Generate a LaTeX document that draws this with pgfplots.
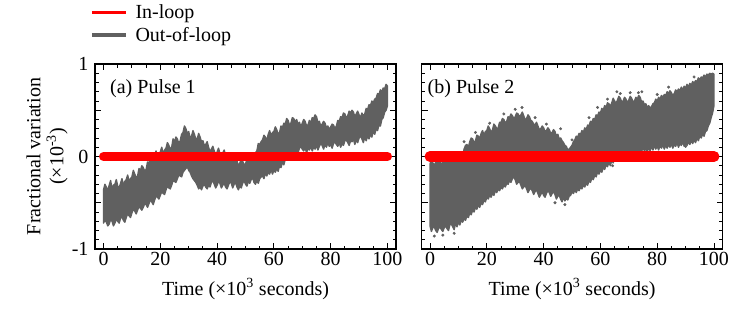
\documentclass[border=0pt]{standalone}
\usepackage{fontspec}
\setmainfont{Liberation Serif}
\usepackage{pgfplots}
\usepackage{pgfplotstable}
\pgfplotsset{compat=1.18}

\definecolor{outloop}{RGB}{96,96,96}
\definecolor{inloop}{RGB}{255,0,0}

% Out-of-loop spread, pulse 1: upper edge (t rising) then lower edge (t falling)
\pgfplotstableread{
t v
0 -0.36
0.5 -0.30
1 -0.33
1.5 -0.37
2 -0.31
2.5 -0.26
3 -0.35
3.5 -0.31
4 -0.30
4.5 -0.25
5 -0.32
5.5 -0.34
6 -0.29
6.5 -0.24
7 -0.31
7.5 -0.27
8 -0.25
8.5 -0.20
9 -0.27
9.5 -0.24
10 -0.22
10.5 -0.15
11 -0.19
11.5 -0.23
12 -0.21
12.5 -0.13
13 -0.15
13.5 -0.10
14 -0.12
14.5 -0.16
15 -0.14
15.5 -0.06
16 -0.07
16.5 -0.02
17 -0.05
17.5 -0.01
18 0.01
18.5 0.06
19 -0.01
19.5 0.02
20 0.05
20.5 0.10
21 0.03
21.5 0.07
22 0.09
22.5 0.15
23 0.12
23.5 0.08
24 0.10
24.5 0.19
25 0.16
25.5 0.21
26 0.19
26.5 0.14
27 0.17
27.5 0.24
28 0.26
28.5 0.33
29 0.30
29.5 0.25
30 0.27
30.5 0.20
31 0.22
31.5 0.28
32 0.24
32.5 0.19
33 0.19
33.5 0.25
34 0.21
34.5 0.16
35 0.17
35.5 0.12
36 0.13
36.5 0.16
37 0.10
37.5 0.05
38 0.08
38.5 0.11
39 0.06
39.5 0.02
40 0.05
40.5 0.09
41 0.03
41.5 0.00
42 0.04
42.5 0.07
43 0.01
43.5 -0.04
44 -0.01
44.5 0.03
45 0.00
45.5 -0.05
46 -0.03
46.5 -0.01
47 -0.05
47.5 -0.10
48 -0.07
48.5 -0.03
49 -0.05
49.5 -0.09
50 -0.08
50.5 -0.03
51 -0.06
51.5 -0.02
52 -0.04
52.5 0.02
53 0.00
53.5 0.04
54 0.06
54.5 0.14
55 0.13
55.5 0.16
56 0.18
56.5 0.23
57 0.21
57.5 0.17
58 0.24
58.5 0.28
59 0.22
59.5 0.26
60 0.27
60.5 0.32
61 0.29
61.5 0.24
62 0.26
62.5 0.33
63 0.31
63.5 0.36
64 0.35
64.5 0.41
65 0.39
65.5 0.34
66 0.36
66.5 0.42
67 0.41
67.5 0.37
68 0.40
68.5 0.35
69 0.37
69.5 0.32
70 0.36
70.5 0.40
71 0.38
71.5 0.33
72 0.34
72.5 0.39
73 0.36
73.5 0.42
74 0.41
74.5 0.45
75 0.43
75.5 0.37
76 0.38
76.5 0.33
77 0.35
77.5 0.38
78 0.36
78.5 0.31
79 0.33
79.5 0.29
80 0.32
80.5 0.35
81 0.34
81.5 0.30
82 0.33
82.5 0.39
83 0.38
83.5 0.43
84 0.42
84.5 0.47
85 0.46
85.5 0.41
86 0.44
86.5 0.49
87 0.47
87.5 0.50
88 0.48
88.5 0.43
89 0.46
89.5 0.49
90 0.45
90.5 0.42
91 0.47
91.5 0.44
92 0.46
92.5 0.52
93 0.51
93.5 0.56
94 0.55
94.5 0.60
95 0.58
95.5 0.62
96 0.63
96.5 0.68
97 0.67
97.5 0.72
98 0.70
98.5 0.74
99 0.73
99.5 0.78
100 0.76
100 0.55
99.5 0.50
99 0.48
98.5 0.42
98 0.40
97.5 0.33
97 0.34
96.5 0.28
96 0.30
95.5 0.24
95 0.27
94.5 0.21
94 0.24
93.5 0.19
93 0.22
92.5 0.17
92 0.21
91.5 0.15
91 0.19
90.5 0.22
90 0.20
89.5 0.15
89 0.18
88.5 0.13
88 0.19
87.5 0.16
87 0.17
86.5 0.12
86 0.15
85.5 0.18
85 0.17
84.5 0.12
84 0.14
83.5 0.10
83 0.15
82.5 0.11
82 0.13
81.5 0.16
81 0.14
80.5 0.09
80 0.13
79.5 0.11
79 0.15
78.5 0.10
78 0.13
77.5 0.08
77 0.12
76.5 0.14
76 0.11
75.5 0.07
75 0.12
74.5 0.08
74 0.10
73.5 0.06
73 0.11
72.5 0.07
72 0.09
71.5 0.04
71 0.10
70.5 0.06
70 0.08
69.5 0.11
69 0.09
68.5 0.04
68 0.07
67.5 0.03
67 0.08
66.5 0.02
66 0.05
65.5 0.00
65 0.01
64.5 -0.04
64 -0.03
63.5 -0.09
63 -0.06
62.5 -0.12
62 -0.10
61.5 -0.16
61 -0.13
60.5 -0.17
60 -0.15
59.5 -0.19
59 -0.14
58.5 -0.19
58 -0.17
57.5 -0.21
57 -0.18
56.5 -0.24
56 -0.21
55.5 -0.22
55 -0.24
54.5 -0.29
54 -0.26
53.5 -0.30
53 -0.28
52.5 -0.23
52 -0.25
51.5 -0.29
51 -0.27
50.5 -0.32
50 -0.30
49.5 -0.26
49 -0.29
48.5 -0.34
48 -0.32
47.5 -0.36
47 -0.33
46.5 -0.28
46 -0.30
45.5 -0.34
45 -0.29
44.5 -0.27
44 -0.31
43.5 -0.35
43 -0.33
42.5 -0.29
42 -0.31
41.5 -0.34
41 -0.29
40.5 -0.27
40 -0.31
39.5 -0.34
39 -0.30
38.5 -0.26
38 -0.28
37.5 -0.33
37 -0.31
36.5 -0.35
36 -0.33
35.5 -0.30
35 -0.32
34.5 -0.36
34 -0.33
33.5 -0.35
33 -0.31
32.5 -0.28
32 -0.26
31.5 -0.24
31 -0.21
30.5 -0.17
30 -0.15
29.5 -0.11
29 -0.13
28.5 -0.15
28 -0.17
27.5 -0.22
27 -0.21
26.5 -0.20
26 -0.24
25.5 -0.28
25 -0.27
24.5 -0.26
24 -0.31
23.5 -0.35
23 -0.34
22.5 -0.32
22 -0.36
21.5 -0.41
21 -0.40
20.5 -0.38
20 -0.42
19.5 -0.46
19 -0.44
18.5 -0.43
18 -0.47
17.5 -0.52
17 -0.49
16.5 -0.47
16 -0.51
15.5 -0.55
15 -0.52
14.5 -0.51
14 -0.55
13.5 -0.58
13 -0.56
12.5 -0.54
12 -0.58
11.5 -0.62
11 -0.59
10.5 -0.57
10 -0.61
9.5 -0.66
9 -0.64
8.5 -0.62
8 -0.66
7.5 -0.71
7 -0.69
6.5 -0.65
6 -0.67
5.5 -0.72
5 -0.70
4.5 -0.68
4 -0.72
3.5 -0.75
3 -0.70
2.5 -0.68
2 -0.73
1.5 -0.75
1 -0.71
0.5 -0.69
0 -0.72
}\bandA

% Out-of-loop spread, pulse 2
\pgfplotstableread{
t v
0 -0.08
0.5 -0.04
1 -0.07
1.5 -0.10
2 -0.06
2.5 -0.03
3 -0.08
3.5 -0.05
4 -0.09
4.5 -0.06
5 -0.04
5.5 -0.07
6 -0.05
6.5 -0.02
7 -0.06
7.5 -0.03
8 -0.07
8.5 -0.04
9 -0.03
9.5 0.00
10 -0.02
10.5 0.05
11 0.03
11.5 0.01
12 0.08
12.5 0.12
13 0.13
13.5 0.10
14 0.16
14.5 0.20
15 0.19
15.5 0.15
16 0.17
16.5 0.23
17 0.22
17.5 0.19
18 0.25
18.5 0.28
19 0.23
19.5 0.27
20 0.28
20.5 0.33
21 0.30
21.5 0.26
22 0.29
22.5 0.35
23 0.33
23.5 0.30
24 0.31
24.5 0.37
25 0.37
25.5 0.41
26 0.40
26.5 0.36
27 0.38
27.5 0.43
28 0.42
28.5 0.46
29 0.44
29.5 0.41
30 0.43
30.5 0.47
31 0.46
31.5 0.43
32 0.45
32.5 0.48
33 0.44
33.5 0.40
34 0.41
34.5 0.45
35 0.43
35.5 0.39
36 0.38
36.5 0.35
37 0.34
37.5 0.37
38 0.33
38.5 0.29
39 0.30
39.5 0.33
40 0.31
40.5 0.27
41 0.28
41.5 0.31
42 0.29
42.5 0.25
43 0.26
43.5 0.29
44 0.27
44.5 0.22
45 0.24
45.5 0.19
46 0.20
46.5 0.17
47 0.15
47.5 0.12
48 0.11
48.5 0.07
49 0.08
49.5 0.10
50 0.12
50.5 0.16
51 0.18
51.5 0.22
52 0.21
52.5 0.25
53 0.24
53.5 0.28
54 0.26
54.5 0.31
55 0.29
55.5 0.34
56 0.33
56.5 0.38
57 0.37
57.5 0.41
58 0.40
58.5 0.45
59 0.44
59.5 0.48
60 0.47
60.5 0.52
61 0.50
61.5 0.55
62 0.53
62.5 0.58
63 0.57
63.5 0.54
64 0.58
64.5 0.63
65 0.60
65.5 0.57
66 0.61
66.5 0.65
67 0.63
67.5 0.59
68 0.60
68.5 0.64
69 0.62
69.5 0.58
70 0.61
70.5 0.65
71 0.63
71.5 0.59
72 0.60
72.5 0.64
73 0.62
73.5 0.66
74 0.64
74.5 0.59
75 0.60
75.5 0.56
76 0.57
76.5 0.53
77 0.55
77.5 0.52
78 0.54
78.5 0.57
79 0.58
79.5 0.62
80 0.60
80.5 0.64
81 0.62
81.5 0.66
82 0.64
82.5 0.67
83 0.66
83.5 0.70
84 0.68
84.5 0.71
85 0.69
85.5 0.66
86 0.68
86.5 0.72
87 0.70
87.5 0.73
88 0.71
88.5 0.75
89 0.72
89.5 0.76
90 0.74
90.5 0.78
91 0.75
91.5 0.79
92 0.77
92.5 0.81
93 0.79
93.5 0.82
94 0.81
94.5 0.85
95 0.83
95.5 0.86
96 0.85
96.5 0.88
97 0.86
97.5 0.89
98 0.88
98.5 0.90
99 0.89
99.5 0.90
100 0.89
100 0.55
99.5 0.47
99 0.42
98.5 0.36
98 0.33
97.5 0.28
97 0.27
96.5 0.22
96 0.24
95.5 0.20
95 0.22
94.5 0.17
94 0.20
93.5 0.15
93 0.18
92.5 0.14
92 0.17
91.5 0.13
91 0.16
90.5 0.12
90 0.15
89.5 0.11
89 0.16
88.5 0.12
88 0.14
87.5 0.10
87 0.15
86.5 0.11
86 0.13
85.5 0.09
85 0.14
84.5 0.10
84 0.13
83.5 0.09
83 0.12
82.5 0.08
82 0.13
81.5 0.09
81 0.12
80.5 0.07
80 0.11
79.5 0.08
79 0.12
78.5 0.07
78 0.11
77.5 0.06
77 0.10
76.5 0.05
76 0.09
75.5 0.06
75 0.10
74.5 0.05
74 0.08
73.5 0.04
73 0.09
72.5 0.04
72 0.07
71.5 0.03
71 0.08
70.5 0.04
70 0.07
69.5 0.03
69 0.08
68.5 0.03
68 0.06
67.5 0.01
67 0.05
66.5 -0.02
66 0.02
65.5 -0.04
65 -0.01
64.5 -0.07
64 -0.04
63.5 -0.10
63 -0.06
62.5 -0.11
62 -0.09
61.5 -0.14
61 -0.12
60.5 -0.17
60 -0.15
59.5 -0.19
59 -0.17
58.5 -0.22
58 -0.20
57.5 -0.25
57 -0.23
56.5 -0.28
56 -0.26
55.5 -0.31
55 -0.29
54.5 -0.33
54 -0.31
53.5 -0.35
53 -0.33
52.5 -0.37
52 -0.35
51.5 -0.39
51 -0.36
50.5 -0.40
50 -0.38
49.5 -0.42
49 -0.43
48.5 -0.47
48 -0.45
47.5 -0.48
47 -0.44
46.5 -0.49
46 -0.46
45.5 -0.42
45 -0.43
44.5 -0.46
44 -0.41
43.5 -0.38
43 -0.40
42.5 -0.43
42 -0.39
41.5 -0.37
41 -0.40
40.5 -0.44
40 -0.42
39.5 -0.38
39 -0.41
38.5 -0.44
38 -0.40
37.5 -0.36
37 -0.38
36.5 -0.41
36 -0.37
35.5 -0.34
35 -0.36
34.5 -0.39
34 -0.35
33.5 -0.31
33 -0.33
32.5 -0.35
32 -0.31
31.5 -0.27
31 -0.28
30.5 -0.30
30 -0.25
29.5 -0.22
29 -0.24
28.5 -0.28
28 -0.26
27.5 -0.30
27 -0.29
26.5 -0.33
26 -0.31
25.5 -0.35
25 -0.33
24.5 -0.37
24 -0.35
23.5 -0.39
23 -0.37
22.5 -0.42
22 -0.40
21.5 -0.44
21 -0.42
20.5 -0.46
20 -0.44
19.5 -0.49
19 -0.47
18.5 -0.52
18 -0.50
17.5 -0.55
17 -0.52
16.5 -0.57
16 -0.55
15.5 -0.60
15 -0.58
14.5 -0.63
14 -0.61
13.5 -0.66
13 -0.64
12.5 -0.69
12 -0.67
11.5 -0.71
11 -0.69
10.5 -0.74
10 -0.71
9.5 -0.76
9 -0.72
8.5 -0.79
8 -0.76
7.5 -0.73
7 -0.74
6.5 -0.80
6 -0.78
5.5 -0.75
5 -0.77
4.5 -0.81
4 -0.79
3.5 -0.76
3 -0.78
2.5 -0.82
2 -0.80
1.5 -0.76
1 -0.77
0.5 -0.81
0 -0.75
}\bandB

% Isolated out-of-loop samples, pulse 2
\pgfplotstableread{
t v
1.5 -0.86
4.5 -0.85
8.5 -0.83
3 -0.14
7 -0.11
12 0.16
16 0.26
21 0.36
26 0.46
30 0.51
32.4 0.53
37 0.42
41 0.35
44 -0.50
46 0.30
47.5 -0.52
50 0.18
56 0.42
59 0.53
62.5 0.62
65.8 0.70
67 0.68
70.5 0.69
73.4 0.69
74.6 0.70
80 0.67
84 0.75
93 0.86
64.3 -0.10
90 0.11
}\dotsB

\newcommand{\lblfont}{\fontsize{20}{23}\selectfont}

\pgfplotsset{
  panel/.style={
    width=301pt, height=185pt, scale only axis,
    anchor=south west,
    xmin=-3, xmax=103, ymin=-1, ymax=1,
    xtick={0,20,...,100}, minor x tick num=3,
    ytick={-1,-0.5,0,0.5,1}, yticklabels={-1,,0,,1}, minor y tick num=4,
    tick align=inside, major tick length=6pt, minor tick length=3.5pt,
    axis line style={line width=1.2pt},
    every tick/.style={black, line width=0.9pt},
    /pgf/number format/assume math mode=true,
    tick label style={font=\lblfont},
    yticklabel style={xshift=-3pt},
    label style={font=\lblfont},
    xlabel={Time (×10\textsuperscript{3} seconds)},
    xlabel style={at={(rel axis cs:0.5,0)}, anchor=center, yshift=-40pt},
  },
  band/.style={fill=outloop, draw=outloop, line width=1.4pt, line join=round},
}

\begin{document}
\begin{tikzpicture}
\useasboundingbox (0,0) rectangle (731pt,308pt);

\begin{axis}[panel, at={(95pt,59pt)},
  ylabel={Fractional variation\\(×10\textsuperscript{-3})},
  ylabel style={align=center, at={(rel axis cs:0,0.5)}, anchor=center, yshift=48pt},
  legend style={at={(rel axis cs:0,1)}, anchor=south west, draw=none, fill=none,
    font=\lblfont, inner sep=0pt, outer sep=0pt, row sep=3pt, column sep=6pt,
    xshift=-5pt, yshift=19pt},
  legend cell align=left,
  legend image code/.code={\draw[#1, line width=3.5pt] (0pt,0pt) -- (34pt,0pt);},
]
\addlegendimage{inloop}
\addlegendentry{In-loop}
\addlegendimage{outloop}
\addlegendentry{Out-of-loop}
\addplot[band, forget plot] table[x=t, y=v] {\bandA} -- cycle;
\addplot[inloop, line width=9pt, line cap=round, forget plot] coordinates {(0,0) (100,0)};
\node[anchor=north west, inner sep=0pt, font=\lblfont] at (rel axis cs:0,1)
  [xshift=15pt, yshift=-15pt] {(a) Pulse 1};
\end{axis}

\begin{axis}[panel, at={(421.5pt,59pt)}, yticklabels={}]
\addplot[band] table[x=t, y=v] {\bandB} -- cycle;
\addplot[only marks, mark=*, mark size=1.3pt, outloop] table[x=t, y=v] {\dotsB};
\addplot[inloop, line width=11pt, line cap=round] coordinates {(0,0) (100,0)};
\node[anchor=north west, inner sep=0pt, font=\lblfont] at (rel axis cs:0,1)
  [xshift=6pt, yshift=-15pt] {(b) Pulse 2};
\end{axis}
\end{tikzpicture}
\end{document}
